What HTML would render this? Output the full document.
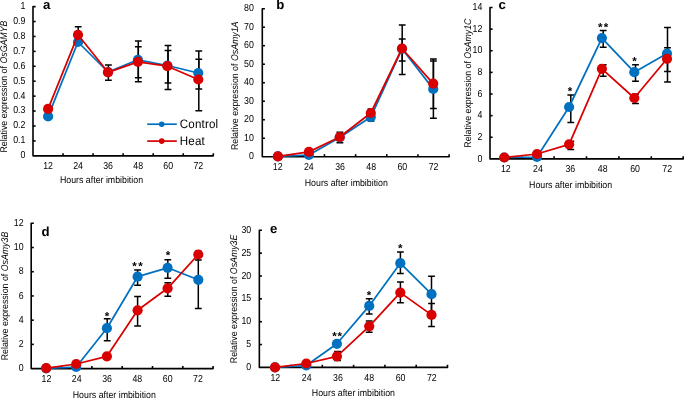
<!DOCTYPE html>
<html><head><meta charset="utf-8"><style>
html,body{margin:0;padding:0;background:#fff;}
body{width:685px;height:398px;overflow:hidden;}
svg{display:block;will-change:transform;text-rendering:geometricPrecision;font-family:"Liberation Sans",sans-serif;}
.ax{fill:none;stroke:#000;stroke-width:1.6;stroke-linecap:butt;stroke-linejoin:round;}
.eb{fill:none;stroke:#000;stroke-width:1.5;}
.t{font-size:8.8px;fill:#000;}
.L{font-size:13.2px;font-weight:bold;fill:#000;}
.lg{font-size:11.6px;letter-spacing:0.15px;fill:#000;}
.s{font-size:11.5px;font-weight:bold;fill:#000;}
</style></head><body>
<svg width="685" height="398" viewBox="0 0 685 398">
<path d="M35.6,6.6H33V155.85H213.3V153.25" class="ax"/>
<text transform="translate(25.4,158.25) scale(1,1.15)" text-anchor="end" class="t">0</text>
<path d="M33,140.92h2.6" class="ax"/>
<text transform="translate(25.4,143.32) scale(1,1.15)" text-anchor="end" class="t">0.1</text>
<path d="M33,126h2.6" class="ax"/>
<text transform="translate(25.4,128.4) scale(1,1.15)" text-anchor="end" class="t">0.2</text>
<path d="M33,111.07h2.6" class="ax"/>
<text transform="translate(25.4,113.47) scale(1,1.15)" text-anchor="end" class="t">0.3</text>
<path d="M33,96.15h2.6" class="ax"/>
<text transform="translate(25.4,98.55) scale(1,1.15)" text-anchor="end" class="t">0.4</text>
<path d="M33,81.22h2.6" class="ax"/>
<text transform="translate(25.4,83.62) scale(1,1.15)" text-anchor="end" class="t">0.5</text>
<path d="M33,66.3h2.6" class="ax"/>
<text transform="translate(25.4,68.7) scale(1,1.15)" text-anchor="end" class="t">0.6</text>
<path d="M33,51.37h2.6" class="ax"/>
<text transform="translate(25.4,53.77) scale(1,1.15)" text-anchor="end" class="t">0.7</text>
<path d="M33,36.45h2.6" class="ax"/>
<text transform="translate(25.4,38.85) scale(1,1.15)" text-anchor="end" class="t">0.8</text>
<path d="M33,21.52h2.6" class="ax"/>
<text transform="translate(25.4,23.92) scale(1,1.15)" text-anchor="end" class="t">0.9</text>
<text transform="translate(25.4,9) scale(1,1.15)" text-anchor="end" class="t">1</text>
<path d="M63.05,155.85v-2.6" class="ax"/>
<path d="M93.1,155.85v-2.6" class="ax"/>
<path d="M123.15,155.85v-2.6" class="ax"/>
<path d="M153.2,155.85v-2.6" class="ax"/>
<path d="M183.25,155.85v-2.6" class="ax"/>
<text transform="translate(48.02,169.15) scale(1,1.15)" text-anchor="middle" class="t">12</text>
<text transform="translate(78.07,169.15) scale(1,1.15)" text-anchor="middle" class="t">24</text>
<text transform="translate(108.12,169.15) scale(1,1.15)" text-anchor="middle" class="t">36</text>
<text transform="translate(138.18,169.15) scale(1,1.15)" text-anchor="middle" class="t">48</text>
<text transform="translate(168.22,169.15) scale(1,1.15)" text-anchor="middle" class="t">60</text>
<text transform="translate(198.28,169.15) scale(1,1.15)" text-anchor="middle" class="t">72</text>
<text transform="translate(101.5,182.8) scale(1,1.1)" text-anchor="middle" class="t">Hours after imbibition</text>
<text transform="translate(7,86.6) rotate(-90) scale(1,1.1)" text-anchor="middle" class="t">Relative expression of <tspan font-style="italic">OsGAMYB</tspan></text>
<text x="43" y="9.2" class="L">a</text>
<path d="M78.2,26.8V43M74.8,26.8h6.8M74.8,43h6.8" class="eb"/>
<path d="M108.4,65V80.2M105,65h6.8M105,80.2h6.8" class="eb"/>
<path d="M138.3,41V77.7M134.9,41h6.8M134.9,77.7h6.8" class="eb"/>
<path d="M138.3,46.8V81.7M134.9,46.8h6.8M134.9,81.7h6.8" class="eb"/>
<path d="M168,45.4V83M164.6,45.4h6.8M164.6,83h6.8" class="eb"/>
<path d="M168,50.6V89.4M164.6,50.6h6.8M164.6,89.4h6.8" class="eb"/>
<path d="M198.8,51V110.8M195.4,51h6.8M195.4,110.8h6.8" class="eb"/>
<path d="M198.8,59.2V89M195.4,59.2h6.8M195.4,89h6.8" class="eb"/>
<path d="M48.1,116.4 L78,42 L108,72 L137.9,59.8 L167.4,65.5 L198.3,73" fill="none" stroke="#0070C0" stroke-width="1.75" stroke-linejoin="round"/>
<circle cx="48.1" cy="116.4" r="5.1" fill="#0070C0"/>
<circle cx="78" cy="42" r="5.1" fill="#0070C0"/>
<circle cx="108" cy="72" r="5.1" fill="#0070C0"/>
<circle cx="137.9" cy="59.8" r="5.1" fill="#0070C0"/>
<circle cx="167.4" cy="65.5" r="5.1" fill="#0070C0"/>
<circle cx="198.3" cy="73" r="5.1" fill="#0070C0"/>
<path d="M48.1,108.9 L78,34.8 L108,72.3 L137.9,61.8 L167.4,66.2 L198.3,79.5" fill="none" stroke="#D90000" stroke-width="1.75" stroke-linejoin="round"/>
<circle cx="48.1" cy="108.9" r="5.1" fill="#D90000"/>
<circle cx="78" cy="34.8" r="5.1" fill="#D90000"/>
<circle cx="108" cy="72.3" r="5.1" fill="#D90000"/>
<circle cx="137.9" cy="61.8" r="5.1" fill="#D90000"/>
<circle cx="167.4" cy="66.2" r="5.1" fill="#D90000"/>
<circle cx="198.3" cy="79.5" r="5.1" fill="#D90000"/>
<path d="M264.9,8.7H262.3V156.75H449.12V154.15" class="ax"/>
<text transform="translate(253.9,159.35) scale(1,1.15)" text-anchor="end" class="t">0</text>
<path d="M262.3,138.24h2.6" class="ax"/>
<text transform="translate(253.9,140.84) scale(1,1.15)" text-anchor="end" class="t">10</text>
<path d="M262.3,119.74h2.6" class="ax"/>
<text transform="translate(253.9,122.34) scale(1,1.15)" text-anchor="end" class="t">20</text>
<path d="M262.3,101.23h2.6" class="ax"/>
<text transform="translate(253.9,103.83) scale(1,1.15)" text-anchor="end" class="t">30</text>
<path d="M262.3,82.72h2.6" class="ax"/>
<text transform="translate(253.9,85.32) scale(1,1.15)" text-anchor="end" class="t">40</text>
<path d="M262.3,64.22h2.6" class="ax"/>
<text transform="translate(253.9,66.82) scale(1,1.15)" text-anchor="end" class="t">50</text>
<path d="M262.3,45.71h2.6" class="ax"/>
<text transform="translate(253.9,48.31) scale(1,1.15)" text-anchor="end" class="t">60</text>
<path d="M262.3,27.21h2.6" class="ax"/>
<text transform="translate(253.9,29.81) scale(1,1.15)" text-anchor="end" class="t">70</text>
<text transform="translate(253.9,11.3) scale(1,1.15)" text-anchor="end" class="t">80</text>
<path d="M293.27,156.75v-2.6" class="ax"/>
<path d="M324.44,156.75v-2.6" class="ax"/>
<path d="M355.61,156.75v-2.6" class="ax"/>
<path d="M386.78,156.75v-2.6" class="ax"/>
<path d="M417.95,156.75v-2.6" class="ax"/>
<text transform="translate(277.69,170.05) scale(1,1.15)" text-anchor="middle" class="t">12</text>
<text transform="translate(308.86,170.05) scale(1,1.15)" text-anchor="middle" class="t">24</text>
<text transform="translate(340.03,170.05) scale(1,1.15)" text-anchor="middle" class="t">36</text>
<text transform="translate(371.2,170.05) scale(1,1.15)" text-anchor="middle" class="t">48</text>
<text transform="translate(402.37,170.05) scale(1,1.15)" text-anchor="middle" class="t">60</text>
<text transform="translate(433.54,170.05) scale(1,1.15)" text-anchor="middle" class="t">72</text>
<text transform="translate(346.3,186) scale(1,1.1)" text-anchor="middle" class="t">Hours after imbibition</text>
<text transform="translate(238,85.8) rotate(-90) scale(1,1.1)" text-anchor="middle" class="t">Relative expression of <tspan font-style="italic">OsAmy1A</tspan></text>
<text x="276.3" y="9.2" class="L">b</text>
<path d="M339.9,132.2V142.8M336.5,132.2h6.8M336.5,142.8h6.8" class="eb"/>
<path d="M371,109V120.9M367.6,109h6.8M367.6,120.9h6.8" class="eb"/>
<path d="M402.2,25.1V74.6M398.8,25.1h6.8M398.8,74.6h6.8" class="eb"/>
<path d="M402.2,39.1V61M398.8,39.1h6.8M398.8,61h6.8" class="eb"/>
<path d="M433.4,59V108.4M430,59h6.8M430,108.4h6.8" class="eb"/>
<path d="M433.4,61V118.2M430,61h6.8M430,118.2h6.8" class="eb"/>
<path d="M277.9,156.4 L308.9,155 L339.7,137.5 L370.8,117.1 L402,48.8 L433.2,88.9" fill="none" stroke="#0070C0" stroke-width="1.75" stroke-linejoin="round"/>
<circle cx="277.9" cy="156.4" r="5.1" fill="#0070C0"/>
<circle cx="308.9" cy="155" r="5.1" fill="#0070C0"/>
<circle cx="339.7" cy="137.5" r="5.1" fill="#0070C0"/>
<circle cx="370.8" cy="117.1" r="5.1" fill="#0070C0"/>
<circle cx="402" cy="48.8" r="5.1" fill="#0070C0"/>
<circle cx="433.2" cy="88.9" r="5.1" fill="#0070C0"/>
<path d="M277.9,156.4 L308.9,151.9 L339.7,137 L370.8,113 L402,48.5 L433.2,83.6" fill="none" stroke="#D90000" stroke-width="1.75" stroke-linejoin="round"/>
<circle cx="277.9" cy="156.4" r="5.1" fill="#D90000"/>
<circle cx="308.9" cy="151.9" r="5.1" fill="#D90000"/>
<circle cx="339.7" cy="137" r="5.1" fill="#D90000"/>
<circle cx="370.8" cy="113" r="5.1" fill="#D90000"/>
<circle cx="402" cy="48.5" r="5.1" fill="#D90000"/>
<circle cx="433.2" cy="83.6" r="5.1" fill="#D90000"/>
<path d="M492.6,7.5H490V158.9H683.2V156.3" class="ax"/>
<text transform="translate(482.3,161.5) scale(1,1.15)" text-anchor="end" class="t">0</text>
<path d="M490,137.27h2.6" class="ax"/>
<text transform="translate(482.3,139.87) scale(1,1.15)" text-anchor="end" class="t">2</text>
<path d="M490,115.64h2.6" class="ax"/>
<text transform="translate(482.3,118.24) scale(1,1.15)" text-anchor="end" class="t">4</text>
<path d="M490,94.01h2.6" class="ax"/>
<text transform="translate(482.3,96.61) scale(1,1.15)" text-anchor="end" class="t">6</text>
<path d="M490,72.39h2.6" class="ax"/>
<text transform="translate(482.3,74.99) scale(1,1.15)" text-anchor="end" class="t">8</text>
<path d="M490,50.76h2.6" class="ax"/>
<text transform="translate(482.3,53.36) scale(1,1.15)" text-anchor="end" class="t">10</text>
<path d="M490,29.13h2.6" class="ax"/>
<text transform="translate(482.3,31.73) scale(1,1.15)" text-anchor="end" class="t">12</text>
<text transform="translate(482.3,10.1) scale(1,1.15)" text-anchor="end" class="t">14</text>
<path d="M521.7,158.9v-2.6" class="ax"/>
<path d="M554.1,158.9v-2.6" class="ax"/>
<path d="M586.5,158.9v-2.6" class="ax"/>
<path d="M618.9,158.9v-2.6" class="ax"/>
<path d="M651.3,158.9v-2.6" class="ax"/>
<text transform="translate(505.85,172.2) scale(1,1.15)" text-anchor="middle" class="t">12</text>
<text transform="translate(537.9,172.2) scale(1,1.15)" text-anchor="middle" class="t">24</text>
<text transform="translate(570.3,172.2) scale(1,1.15)" text-anchor="middle" class="t">36</text>
<text transform="translate(602.7,172.2) scale(1,1.15)" text-anchor="middle" class="t">48</text>
<text transform="translate(635.1,172.2) scale(1,1.15)" text-anchor="middle" class="t">60</text>
<text transform="translate(667.25,172.2) scale(1,1.15)" text-anchor="middle" class="t">72</text>
<text transform="translate(570.6,187.7) scale(1,1.1)" text-anchor="middle" class="t">Hours after imbibition</text>
<text transform="translate(470.6,83.1) rotate(-90) scale(1,1.1)" text-anchor="middle" class="t">Relative expression of <tspan font-style="italic">OsAmy1C</tspan></text>
<text x="498.5" y="8.6" class="L">c</text>
<path d="M570.8,95V122.5M567.4,95h6.8M567.4,122.5h6.8" class="eb"/>
<path d="M570.8,141.2V149.5M567.4,141.2h6.8M567.4,149.5h6.8" class="eb"/>
<path d="M603.2,30.6V47.2M599.8,30.6h6.8M599.8,47.2h6.8" class="eb"/>
<path d="M603.2,64.7V76.3M599.8,64.7h6.8M599.8,76.3h6.8" class="eb"/>
<path d="M635.5,64.7V81.2M632.1,64.7h6.8M632.1,81.2h6.8" class="eb"/>
<path d="M635.5,94.3V103.5M632.1,94.3h6.8M632.1,103.5h6.8" class="eb"/>
<path d="M667.5,27.6V82M664.1,27.6h6.8M664.1,82h6.8" class="eb"/>
<path d="M667.5,47.8V71.5M664.1,47.8h6.8M664.1,71.5h6.8" class="eb"/>
<path d="M504.3,157.5 L537,157 L569.1,107 L601.9,38.1 L634.3,72.2 L667,53.5" fill="none" stroke="#0070C0" stroke-width="1.75" stroke-linejoin="round"/>
<circle cx="504.3" cy="157.5" r="5.1" fill="#0070C0"/>
<circle cx="537" cy="157" r="5.1" fill="#0070C0"/>
<circle cx="569.1" cy="107" r="5.1" fill="#0070C0"/>
<circle cx="601.9" cy="38.1" r="5.1" fill="#0070C0"/>
<circle cx="634.3" cy="72.2" r="5.1" fill="#0070C0"/>
<circle cx="667" cy="53.5" r="5.1" fill="#0070C0"/>
<path d="M504.3,157.5 L537,154 L569.1,144.3 L601.9,68.8 L634.3,98 L667,58.8" fill="none" stroke="#D90000" stroke-width="1.75" stroke-linejoin="round"/>
<circle cx="504.3" cy="157.5" r="5.1" fill="#D90000"/>
<circle cx="537" cy="154" r="5.1" fill="#D90000"/>
<circle cx="569.1" cy="144.3" r="5.1" fill="#D90000"/>
<circle cx="601.9" cy="68.8" r="5.1" fill="#D90000"/>
<circle cx="634.3" cy="98" r="5.1" fill="#D90000"/>
<circle cx="667" cy="58.8" r="5.1" fill="#D90000"/>
<text x="570.1" y="95.42" text-anchor="middle" class="s">*</text>
<text x="600.2" y="30.62" text-anchor="middle" class="s">*</text>
<text x="606.1" y="30.62" text-anchor="middle" class="s">*</text>
<text x="634.6" y="65.12" text-anchor="middle" class="s">*</text>
<path d="M33.8,223.3H31.2V368.6H213.1V366" class="ax"/>
<text transform="translate(23.6,371.2) scale(1,1.15)" text-anchor="end" class="t">0</text>
<path d="M31.2,344.38h2.6" class="ax"/>
<text transform="translate(23.6,346.98) scale(1,1.15)" text-anchor="end" class="t">2</text>
<path d="M31.2,320.17h2.6" class="ax"/>
<text transform="translate(23.6,322.77) scale(1,1.15)" text-anchor="end" class="t">4</text>
<path d="M31.2,295.95h2.6" class="ax"/>
<text transform="translate(23.6,298.55) scale(1,1.15)" text-anchor="end" class="t">6</text>
<path d="M31.2,271.73h2.6" class="ax"/>
<text transform="translate(23.6,274.33) scale(1,1.15)" text-anchor="end" class="t">8</text>
<path d="M31.2,247.52h2.6" class="ax"/>
<text transform="translate(23.6,250.12) scale(1,1.15)" text-anchor="end" class="t">10</text>
<text transform="translate(23.6,225.9) scale(1,1.15)" text-anchor="end" class="t">12</text>
<path d="M61.6,368.6v-2.6" class="ax"/>
<path d="M91.9,368.6v-2.6" class="ax"/>
<path d="M122.2,368.6v-2.6" class="ax"/>
<path d="M152.5,368.6v-2.6" class="ax"/>
<path d="M182.8,368.6v-2.6" class="ax"/>
<text transform="translate(46.45,381.9) scale(1,1.15)" text-anchor="middle" class="t">12</text>
<text transform="translate(76.75,381.9) scale(1,1.15)" text-anchor="middle" class="t">24</text>
<text transform="translate(107.05,381.9) scale(1,1.15)" text-anchor="middle" class="t">36</text>
<text transform="translate(137.35,381.9) scale(1,1.15)" text-anchor="middle" class="t">48</text>
<text transform="translate(167.65,381.9) scale(1,1.15)" text-anchor="middle" class="t">60</text>
<text transform="translate(197.95,381.9) scale(1,1.15)" text-anchor="middle" class="t">72</text>
<text transform="translate(114.3,397.8) scale(1,1.1)" text-anchor="middle" class="t">Hours after imbibition</text>
<text transform="translate(7.7,296) rotate(-90) scale(1,1.1)" text-anchor="middle" class="t">Relative expression of <tspan font-style="italic">OsAmy3B</tspan></text>
<text x="41.5" y="235.6" class="L">d</text>
<path d="M107.2,318.8V340.8M103.8,318.8h6.8M103.8,340.8h6.8" class="eb"/>
<path d="M137.6,270.1V285.2M134.2,270.1h6.8M134.2,285.2h6.8" class="eb"/>
<path d="M137.6,296.6V326M134.2,296.6h6.8M134.2,326h6.8" class="eb"/>
<path d="M167.8,259.7V278.2M164.4,259.7h6.8M164.4,278.2h6.8" class="eb"/>
<path d="M167.8,282.7V296.3M164.4,282.7h6.8M164.4,296.3h6.8" class="eb"/>
<path d="M198.3,251.3V308.4M194.9,251.3h6.8M194.9,308.4h6.8" class="eb"/>
<path d="M198.3,252V260.1M194.9,252h6.8M194.9,260.1h6.8" class="eb"/>
<path d="M46.2,368.3 L76.2,367 L106.9,328.2 L137.6,276.7 L167.6,267.8 L198.3,279.8" fill="none" stroke="#0070C0" stroke-width="1.75" stroke-linejoin="round"/>
<circle cx="46.2" cy="368.3" r="5.1" fill="#0070C0"/>
<circle cx="76.2" cy="367" r="5.1" fill="#0070C0"/>
<circle cx="106.9" cy="328.2" r="5.1" fill="#0070C0"/>
<circle cx="137.6" cy="276.7" r="5.1" fill="#0070C0"/>
<circle cx="167.6" cy="267.8" r="5.1" fill="#0070C0"/>
<circle cx="198.3" cy="279.8" r="5.1" fill="#0070C0"/>
<path d="M46.2,368.1 L76.2,364 L106.9,356.3 L137.6,310.3 L167.6,288.3 L198.3,254.5" fill="none" stroke="#D90000" stroke-width="1.75" stroke-linejoin="round"/>
<circle cx="46.2" cy="368.1" r="5.1" fill="#D90000"/>
<circle cx="76.2" cy="364" r="5.1" fill="#D90000"/>
<circle cx="106.9" cy="356.3" r="5.1" fill="#D90000"/>
<circle cx="137.6" cy="310.3" r="5.1" fill="#D90000"/>
<circle cx="167.6" cy="288.3" r="5.1" fill="#D90000"/>
<circle cx="198.3" cy="254.5" r="5.1" fill="#D90000"/>
<text x="107" y="319.62" text-anchor="middle" class="s">*</text>
<text x="134.4" y="269.92" text-anchor="middle" class="s">*</text>
<text x="140.6" y="269.92" text-anchor="middle" class="s">*</text>
<text x="168.1" y="259.42" text-anchor="middle" class="s">*</text>
<path d="M261.95,230.3H259.35V367.4H447.5V364.8" class="ax"/>
<text transform="translate(251.2,370) scale(1,1.15)" text-anchor="end" class="t">0</text>
<path d="M259.35,344.55h2.6" class="ax"/>
<text transform="translate(251.2,347.15) scale(1,1.15)" text-anchor="end" class="t">5</text>
<path d="M259.35,321.7h2.6" class="ax"/>
<text transform="translate(251.2,324.3) scale(1,1.15)" text-anchor="end" class="t">10</text>
<path d="M259.35,298.85h2.6" class="ax"/>
<text transform="translate(251.2,301.45) scale(1,1.15)" text-anchor="end" class="t">15</text>
<path d="M259.35,276h2.6" class="ax"/>
<text transform="translate(251.2,278.6) scale(1,1.15)" text-anchor="end" class="t">20</text>
<path d="M259.35,253.15h2.6" class="ax"/>
<text transform="translate(251.2,255.75) scale(1,1.15)" text-anchor="end" class="t">25</text>
<text transform="translate(251.2,232.9) scale(1,1.15)" text-anchor="end" class="t">30</text>
<path d="M291,367.4v-2.6" class="ax"/>
<path d="M322.3,367.4v-2.6" class="ax"/>
<path d="M353.6,367.4v-2.6" class="ax"/>
<path d="M384.9,367.4v-2.6" class="ax"/>
<path d="M416.2,367.4v-2.6" class="ax"/>
<text transform="translate(275.35,380.7) scale(1,1.15)" text-anchor="middle" class="t">12</text>
<text transform="translate(306.65,380.7) scale(1,1.15)" text-anchor="middle" class="t">24</text>
<text transform="translate(337.95,380.7) scale(1,1.15)" text-anchor="middle" class="t">36</text>
<text transform="translate(369.25,380.7) scale(1,1.15)" text-anchor="middle" class="t">48</text>
<text transform="translate(400.55,380.7) scale(1,1.15)" text-anchor="middle" class="t">60</text>
<text transform="translate(431.85,380.7) scale(1,1.15)" text-anchor="middle" class="t">72</text>
<text transform="translate(353.4,396.4) scale(1,1.1)" text-anchor="middle" class="t">Hours after imbibition</text>
<text transform="translate(237,298.9) rotate(-90) scale(1,1.1)" text-anchor="middle" class="t">Relative expression of <tspan font-style="italic">OsAmy3E</tspan></text>
<text x="270" y="232.8" class="L">e</text>
<path d="M337.5,351.5V360.5M334.1,351.5h6.8M334.1,360.5h6.8" class="eb"/>
<path d="M369.2,298.8V313.9M365.8,298.8h6.8M365.8,313.9h6.8" class="eb"/>
<path d="M369.2,321.1V332.2M365.8,321.1h6.8M365.8,332.2h6.8" class="eb"/>
<path d="M400.4,252.1V273.4M397,252.1h6.8M397,273.4h6.8" class="eb"/>
<path d="M400.4,281.9V302.7M397,281.9h6.8M397,302.7h6.8" class="eb"/>
<path d="M431.5,276.2V312.2M428.1,276.2h6.8M428.1,312.2h6.8" class="eb"/>
<path d="M431.5,303.6V326.6M428.1,303.6h6.8M428.1,326.6h6.8" class="eb"/>
<path d="M275,367.3 L306.3,365.5 L336.9,343.8 L369.2,305.9 L400.3,263.2 L431.5,294.2" fill="none" stroke="#0070C0" stroke-width="1.75" stroke-linejoin="round"/>
<circle cx="275" cy="367.3" r="5.1" fill="#0070C0"/>
<circle cx="306.3" cy="365.5" r="5.1" fill="#0070C0"/>
<circle cx="336.9" cy="343.8" r="5.1" fill="#0070C0"/>
<circle cx="369.2" cy="305.9" r="5.1" fill="#0070C0"/>
<circle cx="400.3" cy="263.2" r="5.1" fill="#0070C0"/>
<circle cx="431.5" cy="294.2" r="5.1" fill="#0070C0"/>
<path d="M275,367.4 L306.3,363.5 L336.9,356.3 L369.2,326.3 L400.3,292.6 L431.5,314.9" fill="none" stroke="#D90000" stroke-width="1.75" stroke-linejoin="round"/>
<circle cx="275" cy="367.4" r="5.1" fill="#D90000"/>
<circle cx="306.3" cy="363.5" r="5.1" fill="#D90000"/>
<circle cx="336.9" cy="356.3" r="5.1" fill="#D90000"/>
<circle cx="369.2" cy="326.3" r="5.1" fill="#D90000"/>
<circle cx="400.3" cy="292.6" r="5.1" fill="#D90000"/>
<circle cx="431.5" cy="314.9" r="5.1" fill="#D90000"/>
<text x="334.4" y="340.12" text-anchor="middle" class="s">*</text>
<text x="339.8" y="340.12" text-anchor="middle" class="s">*</text>
<text x="369" y="299.12" text-anchor="middle" class="s">*</text>
<text x="400.3" y="252.22" text-anchor="middle" class="s">*</text>
<path d="M147.2,124.2H176.8" stroke="#0070C0" stroke-width="1.7"/>
<circle cx="161.7" cy="124.2" r="2.8" fill="#0070C0"/>
<path d="M147.2,141.1H176.8" stroke="#D90000" stroke-width="1.7"/>
<circle cx="161.7" cy="141.1" r="2.8" fill="#D90000"/>
<text transform="translate(179.8,127.8) scale(1,1.06)" class="lg">Control</text>
<text transform="translate(179.8,144.6) scale(1,1.06)" class="lg">Heat</text>
</svg>
</body></html>
